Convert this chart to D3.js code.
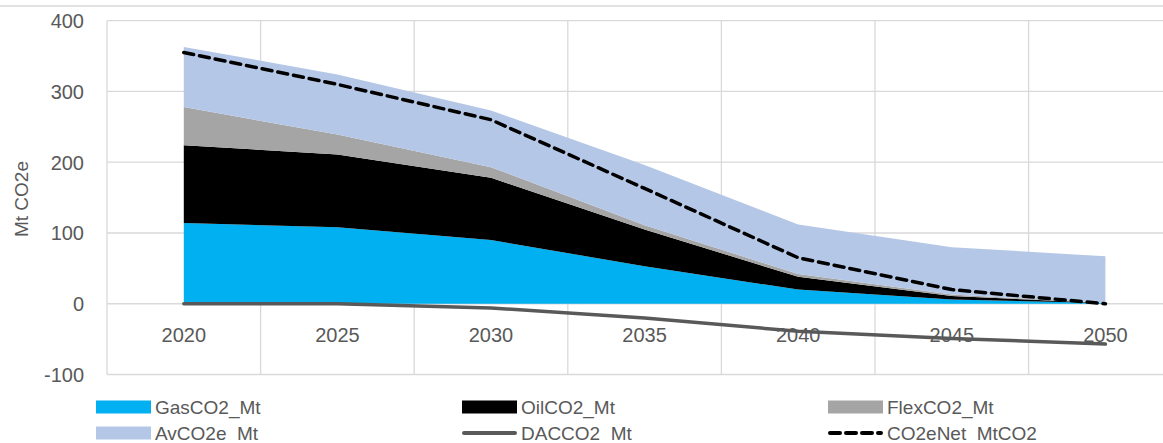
<!DOCTYPE html>
<html><head><meta charset="utf-8">
<script src="https://cdn.jsdelivr.net/npm/d3@7"></script>
<style>
html,body{margin:0;padding:0;background:#fff;}
svg{display:block;}
</style></head>
<body>
<svg id="chart" width="1163" height="443"></svg>
<script>
const years = ["2020","2025","2030","2035","2040","2045","2050"];
const gasCO2 = [114, 108, 90, 53, 20, 6, 1];
const oilCO2 = [110, 103, 88, 52, 18, 5, 0];
const flexCO2 = [54, 28, 15, 6, 4, 2, 0];
const avCO2e = [85, 85, 80, 85, 70, 67, 66];
const dacCO2 = [0, 0, -6, -20, -39, -49, -57];
const netCO2 = [355, 310, 260, 163, 65, 20, 0];
const yTicks = [-100, 0, 100, 200, 300, 400];
const seriesNames = ["GasCO2_Mt","OilCO2_Mt","FlexCO2_Mt","AvCO2e_Mt","DACCO2_Mt","CO2eNet_MtCO2"];

const colors = {gas:"#00B0F0", oil:"#000000", flex:"#A5A5A5", av:"#B4C7E7", dac:"#595959", net:"#000000"};
const font = "'Liberation Sans', Arial, sans-serif";
const narrow = "'Liberation Sans Narrow', 'Liberation Sans', Arial, sans-serif";

const svg = d3.select("#chart");
const left = 107, bandW = 153.6;
const x = d3.scaleBand().domain(years).range([left, left + years.length*bandW]).padding(0);
const xc = d => x(d) + x.bandwidth()/2;
const y = d3.scaleLinear().domain([-100, 400]).range([374.5, 20.7]);

// chart border top
svg.append("line").attr("x1",0).attr("x2",1163).attr("y1",6).attr("y2",6)
  .attr("stroke","#d9d9d9").attr("stroke-width",1.3);

// gridlines
const grid = svg.append("g");
grid.selectAll("line.h").data(yTicks).join("line")
  .attr("x1", left).attr("x2", left + years.length*bandW)
  .attr("y1", d=>y(d)).attr("y2", d=>y(d))
  .attr("stroke","#d9d9d9").attr("stroke-width",1.3);
const vb = years.map(d=>x(d)).concat([left + years.length*bandW]);
grid.selectAll("line.v").data(vb).join("line")
  .attr("x1", d=>d).attr("x2", d=>d)
  .attr("y1", y(400)).attr("y2", y(-100))
  .attr("stroke","#d9d9d9").attr("stroke-width",1.3);

// stacked areas
const rows = years.map((yr,i)=>({year:yr, gas:gasCO2[i], oil:oilCO2[i], flex:flexCO2[i], av:avCO2e[i]}));
const stack = d3.stack().keys(["gas","oil","flex","av"]);
const layers = stack(rows);
const area = d3.area().x(d=>xc(d.data.year)).y0(d=>y(d[0])).y1(d=>y(d[1]));
svg.append("g").selectAll("path").data(layers).join("path")
  .attr("d", area).attr("fill", d=>colors[d.key]);

// DAC line
const line = d3.line().x((d,i)=>xc(years[i])).y(d=>y(d));
svg.append("path").datum(dacCO2).attr("d", line)
  .attr("fill","none").attr("stroke",colors.dac).attr("stroke-width",3.5).attr("stroke-linecap","round");

// Net dashed
svg.append("path").datum(netCO2).attr("d", line)
  .attr("fill","none").attr("stroke",colors.net).attr("stroke-width",3.5)
  .attr("stroke-dasharray","10,6").attr("stroke-linecap","round");

// axes labels
const xAxis = d3.axisBottom(x).tickSize(0).tickPadding(0);
const gx = svg.append("g").attr("transform", `translate(0,${y(0)})`).call(xAxis);
gx.select(".domain").remove();
gx.selectAll("text").attr("y", 38).attr("dy", 0)
  .style("font-family", font).style("font-size","20px").attr("fill","#595959");

const yAxis = d3.axisLeft(y).tickValues(yTicks).tickSize(0).tickPadding(0).tickFormat(d => String(d));
const gy = svg.append("g").attr("transform", `translate(84,0)`).call(yAxis);
gy.select(".domain").remove();
gy.selectAll("text").attr("x", 0).attr("dy", "0.35em")
  .style("font-family", font).style("font-size","20px").attr("fill","#595959");

svg.append("text").attr("transform","translate(28,199) rotate(-90)")
  .attr("text-anchor","middle").style("font-family", font).style("font-size","19px")
  .attr("fill","#595959").text("Mt CO2e");

// legend
const legX = [96, 462, 828], legY = [407, 433];
const leg = svg.append("g");
seriesNames.forEach((name,i)=>{
  const cx = legX[i%3], cy = legY[Math.floor(i/3)];
  const g = leg.append("g");
  if (i < 4) {
    const c = [colors.gas, colors.oil, colors.flex, colors.av][i];
    g.append("rect").attr("x",cx).attr("y",cy-6.5).attr("width",55).attr("height",13).attr("fill",c);
  } else if (i === 4) {
    g.append("line").attr("x1",cx+2).attr("x2",cx+53).attr("y1",cy).attr("y2",cy)
      .attr("stroke",colors.dac).attr("stroke-width",4).attr("stroke-linecap","round");
  } else {
    g.append("line").attr("x1",cx+2).attr("x2",cx+53).attr("y1",cy).attr("y2",cy)
      .attr("stroke",colors.net).attr("stroke-width",4).attr("stroke-dasharray","10,6").attr("stroke-linecap","round");
  }
  g.append("text").attr("x", cx+59).attr("y", cy).attr("dy","0.36em")
    .style("font-family", narrow).style("font-size","19px").attr("fill","#595959").text(name);
});
</script>
</body></html>
